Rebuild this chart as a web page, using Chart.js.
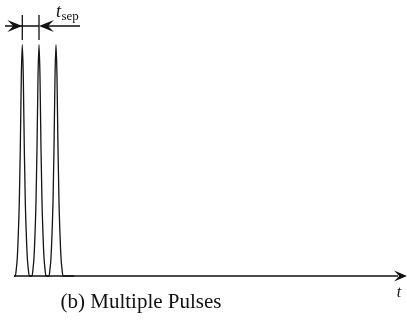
<!DOCTYPE html>
<html>
<head>
<meta charset="utf-8">
<script src="https://cdn.jsdelivr.net/npm/chart.js@4.4.0/dist/chart.umd.min.js"></script>
<style>
  html, body { margin: 0; padding: 0; background: #fff; }
  #wrap { width: 407px; height: 322px; }
</style>
</head>
<body>
<div id="wrap"><canvas id="pulseChart" width="407" height="322"></canvas></div>
<script>
// pulse positions along t (axis units) and one pulse profile
const pulseCenters = [8.3, 25, 42];
const pulseOffsets = [-7, -6, -5, -4, -3, -2, -1, 0, 1, 2, 3, 4, 5, 6, 7];
const pulseShape   = [0.00, 0.03, 0.08, 0.18, 0.32, 0.55, 0.86, 1.00, 0.86, 0.55, 0.32, 0.18, 0.08, 0.03, 0.00];
const tRange = [0, 386];
const axisLabel = 't';
const sepLabel = ['t', 'sep'];
const caption = '(b) Multiple Pulses';

// build the trace from the arrays above
const trace = [{ x: tRange[0], y: 0 }];
pulseCenters.forEach(c => {
    pulseOffsets.forEach((o, i) => trace.push({ x: c + o, y: pulseShape[i] }));
});
trace.push({ x: 60, y: 0 });

function arrowHead(ctx, tipX, tipY, dir, len, half) {
    // stealth-style head, dir = 1 points right, -1 points left
    ctx.beginPath();
    ctx.moveTo(tipX, tipY);
    ctx.lineTo(tipX - dir * len, tipY - half);
    ctx.lineTo(tipX - dir * len * 0.6, tipY);
    ctx.lineTo(tipX - dir * len, tipY + half);
    ctx.closePath();
    ctx.fill();
}

const decorations = {
    id: 'decorations',
    afterDatasetsDraw(chart) {
        const { ctx, chartArea, scales: { x, y } } = chart;
        const y0 = y.getPixelForValue(0);
        ctx.save();
        ctx.strokeStyle = '#111';
        ctx.fillStyle = '#111';
        ctx.lineWidth = 1.3;

        // time axis with arrow
        ctx.beginPath();
        ctx.moveTo(chartArea.left, y0);
        ctx.lineTo(398, y0);
        ctx.stroke();
        arrowHead(ctx, 407, y0, 1, 13, 5.5);

        ctx.font = 'italic 16px "Liberation Serif", "Times New Roman", serif';
        ctx.textAlign = 'center';
        ctx.textBaseline = 'alphabetic';
        ctx.fillText(axisLabel, 399, 297);

        // separation marker between first two pulses
        const x1 = x.getPixelForValue(pulseCenters[0]);
        const x2 = x.getPixelForValue(pulseCenters[1]);
        const ay = 26;
        ctx.beginPath();
        ctx.moveTo(x1, 15); ctx.lineTo(x1, 40);
        ctx.moveTo(x2, 15); ctx.lineTo(x2, 40);
        ctx.moveTo(5, ay); ctx.lineTo(x2, ay);
        ctx.moveTo(x2 + 8, ay); ctx.lineTo(x2 + 41, ay);
        ctx.stroke();
        arrowHead(ctx, x1, ay, 1, 15, 6);
        arrowHead(ctx, x2, ay, -1, 15, 6);

        ctx.textAlign = 'left';
        ctx.font = 'italic 18px "Liberation Serif", "Times New Roman", serif';
        ctx.fillText(sepLabel[0], x2 + 17, 17);
        const tw = ctx.measureText(sepLabel[0]).width;
        ctx.font = '13px "Liberation Serif", "Times New Roman", serif';
        ctx.fillText(sepLabel[1], x2 + 17 + tw + 0.5, 20);

        // caption
        ctx.textAlign = 'center';
        ctx.font = '21px "Liberation Serif", "Times New Roman", serif';
        ctx.fillText(caption, 141, 308);
        ctx.restore();
    }
};

new Chart(document.getElementById('pulseChart'), {
    type: 'line',
    data: {
        datasets: [{
            data: trace,
            borderColor: '#151515',
            borderWidth: 1.3,
            pointRadius: 0,
            cubicInterpolationMode: 'monotone',
            fill: false,
            clip: false
        }]
    },
    options: {
        responsive: false,
        animation: false,
        layout: { padding: { left: 14, right: 7, top: 10, bottom: 46 } },
        plugins: { legend: { display: false }, tooltip: { enabled: false } },
        scales: {
            x: { type: 'linear', display: false, min: tRange[0], max: tRange[1] },
            y: { display: false, min: 0, max: 1.15 }
        }
    },
    plugins: [decorations]
});
</script>
</body>
</html>
